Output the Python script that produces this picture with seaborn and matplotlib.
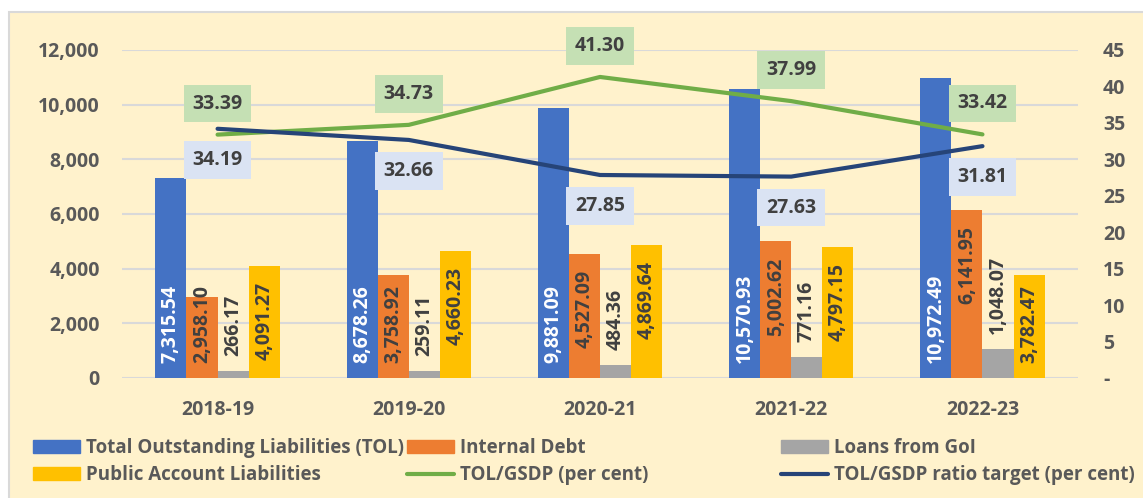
import numpy as np
import pandas as pd
import matplotlib
matplotlib.use("Agg")
import matplotlib.pyplot as plt
from matplotlib.patches import Patch, Rectangle
from matplotlib.lines import Line2D
from matplotlib.ticker import FuncFormatter
import seaborn as sns

# Données (en crore)
years = ["2018-19", "2019-20", "2020-21", "2021-22", "2022-23"]
tol = [7315.54, 8678.26, 9881.09, 10570.93, 10972.49]
internal_debt = [2958.10, 3758.92, 4527.09, 5002.62, 6141.95]
loans_goi = [266.17, 259.11, 484.36, 771.16, 1048.07]
public_account = [4091.27, 4660.23, 4869.64, 4797.15, 3782.47]
tol_gsdp = [33.39, 34.73, 41.30, 37.99, 33.42]
tol_gsdp_target = [34.19, 32.66, 27.85, 27.63, 31.81]

series_names = ["Total Outstanding Liabilities (TOL)", "Internal Debt",
                "Loans from GoI", "Public Account Liabilities"]
bar_colors = ["#4472C4", "#ED7D31", "#A5A5A5", "#FFC000"]
green = "#70AD47"
navy = "#264478"
dark = "#404040"
grey_txt = "#595959"

df = pd.DataFrame({
    "Year": years * 4,
    "Series": np.repeat(series_names, len(years)),
    "Value": tol + internal_debt + loans_goi + public_account,
})

sns.set_theme(style="white")
plt.rcParams["font.family"] = ["Open Sans", "DejaVu Sans"]
plt.rcParams["font.weight"] = "bold"

fig = plt.figure(figsize=(11.43, 4.98), dpi=100)
fig.add_artist(Rectangle((9 / 1143, -0.1), 1.2, 1.1 - 12 / 498, transform=fig.transFigure,
                         facecolor="#FFF2CC", edgecolor="#D9D9D9", lw=1.5, zorder=-5))

ax = fig.add_axes([0.1067, 0.241, 0.8365, 0.6586])
ax.set_facecolor("none")

sns.barplot(data=df, x="Year", y="Value", hue="Series", order=years, hue_order=series_names,
            palette=bar_colors, width=0.65, gap=0, linewidth=0, saturation=1,
            errorbar=None, legend=False, ax=ax, zorder=2)
ax.set_xlim(-0.5, 4.5)
ax.set_ylim(0, 12000)
ax.set_yticks(np.arange(0, 12001, 2000))
ax.yaxis.set_major_formatter(FuncFormatter(lambda v, p: f"{v:,.0f}"))
ax.yaxis.grid(True, color="#D9D9D9", lw=1.5)
ax.set_axisbelow(True)
ax.set_xlabel("")
ax.set_ylabel("")
ax.tick_params(axis="y", length=0, pad=16, labelsize=14, labelcolor=grey_txt)
ax.tick_params(axis="x", length=0, pad=16, labelsize=14, labelcolor=grey_txt)
sns.despine(ax=ax, left=True, bottom=True)

# Axe secondaire pour les ratios
ax2 = ax.twinx()
x_pos = np.arange(len(years))
sns.lineplot(x=x_pos, y=tol_gsdp, color=green, lw=3, solid_capstyle="round", ax=ax2)
sns.lineplot(x=x_pos, y=tol_gsdp_target, color=navy, lw=3, solid_capstyle="round", ax=ax2)
ax2.set_ylim(0, 45)
ax2.set_yticks(np.arange(0, 46, 5))
ax2.set_yticklabels(["-" if t == 0 else str(t) for t in np.arange(0, 46, 5)])
ax2.set_ylabel("")
ax2.grid(False)
ax2.tick_params(axis="y", length=0, pad=18, labelsize=14, labelcolor=grey_txt)
sns.despine(ax=ax2, left=True, bottom=True, right=True)

for lab in ax.get_xticklabels() + ax.get_yticklabels() + ax2.get_yticklabels():
    lab.set_fontweight("bold")

# Étiquettes des barres
inner_end = []
for k, cont in enumerate(ax.containers):
    for rect in cont:
        xc = rect.get_x() + rect.get_width() / 2
        h = rect.get_height()
        txt = f"{h:,.2f}"
        if k == 0:
            ax.annotate(txt, (xc, 0), xytext=(0, 15), textcoords="offset pixels", rotation=90,
                        ha="center", va="bottom", color="white", fontsize=14,
                        fontweight="bold", zorder=4)
        elif k == 2:
            ax.annotate(txt, (xc, h), xytext=(0, 15), textcoords="offset pixels", rotation=90,
                        ha="center", va="bottom", color=dark, fontsize=14,
                        fontweight="bold", zorder=4)
        else:
            t = ax.annotate(txt, (xc, h), xytext=(0, -16), textcoords="offset pixels", rotation=90,
                            ha="center", va="top", color=dark, fontsize=14,
                            fontweight="bold", zorder=4)
            inner_end.append(t)

fig.canvas.draw()
floor = ax.transData.transform((0, 0))[1] + 15
for t in inner_end:
    bb = t.get_window_extent()
    if bb.y0 < floor:
        t.xy = (t.xy[0], 0)
        t.xyann = (0, 15)
        t.set_va("bottom")

# Étiquettes des courbes
for vals, fc, off in [(tol_gsdp, "#C5E0B4", 31), (tol_gsdp_target, "#DAE3F3", -31)]:
    for i, v in enumerate(vals):
        ax2.annotate(f"{v:.2f}", (i, v), xytext=(0, off), textcoords="offset pixels",
                     ha="center", va="center", fontsize=14, fontweight="bold", color=dark,
                     zorder=5, bbox=dict(boxstyle="square,pad=0.45", fc=fc, ec="none"))

# Légende en trois colonnes
cols = [
    ([Patch(color=bar_colors[0]), Patch(color=bar_colors[3])], [series_names[0], series_names[3]], 33),
    ([Patch(color=bar_colors[1]), Line2D([], [], color=green, lw=3, solid_capstyle="round")],
     ["Internal Debt", "TOL/GSDP (per cent)"], 407),
    ([Patch(color=bar_colors[2]), Line2D([], [], color=navy, lw=3, solid_capstyle="round")],
     ["Loans from GoI", "TOL/GSDP ratio target (per cent)"], 781),
]
for handles, labels, xpix in cols:
    fig.legend(handles, labels, loc="center left", bbox_to_anchor=(xpix / 1143, 1 - 461.5 / 498),
               frameon=False, prop={"size": 13.5, "weight": "bold"}, handlelength=2.5,
               handletextpad=0.3, labelspacing=0.4, borderpad=0, borderaxespad=0,
               labelcolor=grey_txt)

fig.savefig("out.png", dpi=100, facecolor="white")
